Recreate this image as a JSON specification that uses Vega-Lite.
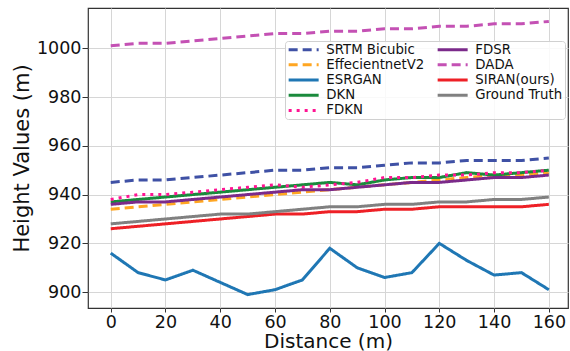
{
  "$schema": "https://vega.github.io/schema/vega-lite/v6.json",
  "width": 480,
  "height": 300,
  "autosize": "none",
  "padding": {"left": 88, "top": 8, "right": 2, "bottom": 43},
  "background": "white",
  "config": {
    "font": "DejaVu Sans",
    "view": {"stroke": "#333333", "strokeWidth": 1.2},
    "axis": {
      "labelFont": "DejaVu Sans",
      "titleFont": "DejaVu Sans",
      "labelFontSize": 17.5,
      "titleFontSize": 20,
      "titleFontWeight": "normal",
      "labelColor": "#111111",
      "titleColor": "#111111",
      "tickColor": "#333333",
      "tickSize": 6,
      "domain": false,
      "gridColor": "#d6d6d6",
      "gridWidth": 1
    }
  },
  "data": {
    "values": [
      {"d": 0, "SRTM Bicubic": 945, "EffecientnetV2": 934, "ESRGAN": 916, "DKN": 937, "FDKN": 938, "FDSR": 936, "DADA": 1001, "SIRAN(ours)": 926, "Ground Truth": 928},
      {"d": 10, "SRTM Bicubic": 946, "EffecientnetV2": 935, "ESRGAN": 908, "DKN": 938, "FDKN": 940, "FDSR": 937, "DADA": 1002, "SIRAN(ours)": 927, "Ground Truth": 929},
      {"d": 20, "SRTM Bicubic": 946, "EffecientnetV2": 936, "ESRGAN": 905, "DKN": 939, "FDKN": 940, "FDSR": 937, "DADA": 1002, "SIRAN(ours)": 928, "Ground Truth": 930},
      {"d": 30, "SRTM Bicubic": 947, "EffecientnetV2": 937, "ESRGAN": 909, "DKN": 940, "FDKN": 941, "FDSR": 938, "DADA": 1003, "SIRAN(ours)": 929, "Ground Truth": 931},
      {"d": 40, "SRTM Bicubic": 948, "EffecientnetV2": 938, "ESRGAN": 904, "DKN": 941, "FDKN": 942, "FDSR": 939, "DADA": 1004, "SIRAN(ours)": 930, "Ground Truth": 932},
      {"d": 50, "SRTM Bicubic": 949, "EffecientnetV2": 939, "ESRGAN": 899, "DKN": 942, "FDKN": 943, "FDSR": 940, "DADA": 1005, "SIRAN(ours)": 931, "Ground Truth": 932},
      {"d": 60, "SRTM Bicubic": 950, "EffecientnetV2": 940, "ESRGAN": 901, "DKN": 943, "FDKN": 944, "FDSR": 941, "DADA": 1006, "SIRAN(ours)": 932, "Ground Truth": 933},
      {"d": 70, "SRTM Bicubic": 950, "EffecientnetV2": 941, "ESRGAN": 905, "DKN": 944, "FDKN": 943, "FDSR": 942, "DADA": 1006, "SIRAN(ours)": 932, "Ground Truth": 934},
      {"d": 80, "SRTM Bicubic": 951, "EffecientnetV2": 942, "ESRGAN": 918, "DKN": 945, "FDKN": 944, "FDSR": 942, "DADA": 1007, "SIRAN(ours)": 933, "Ground Truth": 935},
      {"d": 90, "SRTM Bicubic": 951, "EffecientnetV2": 943, "ESRGAN": 910, "DKN": 944, "FDKN": 945, "FDSR": 943, "DADA": 1007, "SIRAN(ours)": 933, "Ground Truth": 935},
      {"d": 100, "SRTM Bicubic": 952, "EffecientnetV2": 944, "ESRGAN": 906, "DKN": 946, "FDKN": 947, "FDSR": 944, "DADA": 1008, "SIRAN(ours)": 934, "Ground Truth": 936},
      {"d": 110, "SRTM Bicubic": 953, "EffecientnetV2": 945, "ESRGAN": 908, "DKN": 947, "FDKN": 947, "FDSR": 945, "DADA": 1008, "SIRAN(ours)": 934, "Ground Truth": 936},
      {"d": 120, "SRTM Bicubic": 953, "EffecientnetV2": 946, "ESRGAN": 920, "DKN": 947, "FDKN": 948, "FDSR": 945, "DADA": 1009, "SIRAN(ours)": 935, "Ground Truth": 937},
      {"d": 130, "SRTM Bicubic": 954, "EffecientnetV2": 947, "ESRGAN": 913, "DKN": 949, "FDKN": 948, "FDSR": 946, "DADA": 1009, "SIRAN(ours)": 935, "Ground Truth": 937},
      {"d": 140, "SRTM Bicubic": 954, "EffecientnetV2": 948, "ESRGAN": 907, "DKN": 948, "FDKN": 949, "FDSR": 947, "DADA": 1010, "SIRAN(ours)": 935, "Ground Truth": 938},
      {"d": 150, "SRTM Bicubic": 954, "EffecientnetV2": 948, "ESRGAN": 908, "DKN": 949, "FDKN": 949, "FDSR": 947, "DADA": 1010, "SIRAN(ours)": 935, "Ground Truth": 938},
      {"d": 160, "SRTM Bicubic": 955, "EffecientnetV2": 949, "ESRGAN": 901, "DKN": 950, "FDKN": 950, "FDSR": 948, "DADA": 1011, "SIRAN(ours)": 936, "Ground Truth": 939}
    ]
  },
  "transform": [
    {"fold": ["SRTM Bicubic", "EffecientnetV2", "ESRGAN", "DKN", "FDKN", "FDSR", "DADA", "SIRAN(ours)", "Ground Truth"], "as": ["series", "value"]}
  ],
  "mark": {"type": "line", "strokeWidth": 3, "clip": true},
  "encoding": {
    "x": {
      "field": "d",
      "type": "quantitative",
      "title": "Distance (m)",
      "scale": {"domain": [-8.3, 167], "nice": false, "zero": false},
      "axis": {"values": [0, 20, 40, 60, 80, 100, 120, 140, 160], "tickSize": 4, "titlePadding": 1, "labelPadding": 1}
    },
    "y": {
      "field": "value",
      "type": "quantitative",
      "title": "Height Values (m)",
      "scale": {"domain": [893.5, 1016.5], "nice": false, "zero": false},
      "axis": {"values": [900, 920, 940, 960, 980, 1000], "format": "d", "titleFontSize": 21, "titlePadding": 4, "labelPadding": 1}
    },
    "color": {
      "field": "series",
      "type": "nominal",
      "title": null,
      "scale": {
        "domain": ["SRTM Bicubic", "EffecientnetV2", "ESRGAN", "DKN", "FDKN", "FDSR", "DADA", "SIRAN(ours)", "Ground Truth"],
        "range": ["#3f51a5", "#ffa622", "#1f77b4", "#1a8a3c", "#ff1493", "#7b2a8a", "#c451b4", "#ee2026", "#808080"]
      },
      "legend": {
        "orient": "none",
        "legendX": 197,
        "legendY": 33,
        "columns": 2,
        "symbolType": "M-1,0H5",
        "symbolSize": 100,
        "symbolStrokeWidth": 3,
        "labelFontSize": 13.3,
        "labelFont": "DejaVu Sans",
        "labelColor": "#111111",
        "rowPadding": 1.2,
        "columnPadding": 6,
        "labelOffset": 26,
        "padding": 2,
        "strokeColor": "#d0d0d0",
        "fillColor": "rgba(255,255,255,0.85)",
        "cornerRadius": 3
      }
    },
    "strokeDash": {
      "field": "series",
      "type": "nominal",
      "title": null,
      "scale": {
        "domain": ["SRTM Bicubic", "EffecientnetV2", "ESRGAN", "DKN", "FDKN", "FDSR", "DADA", "SIRAN(ours)", "Ground Truth"],
        "range": [[9, 5], [9, 5], [1, 0], [1, 0], [3, 5], [1, 0], [9, 5], [1, 0], [1, 0]]
      }
    }
  }
}
